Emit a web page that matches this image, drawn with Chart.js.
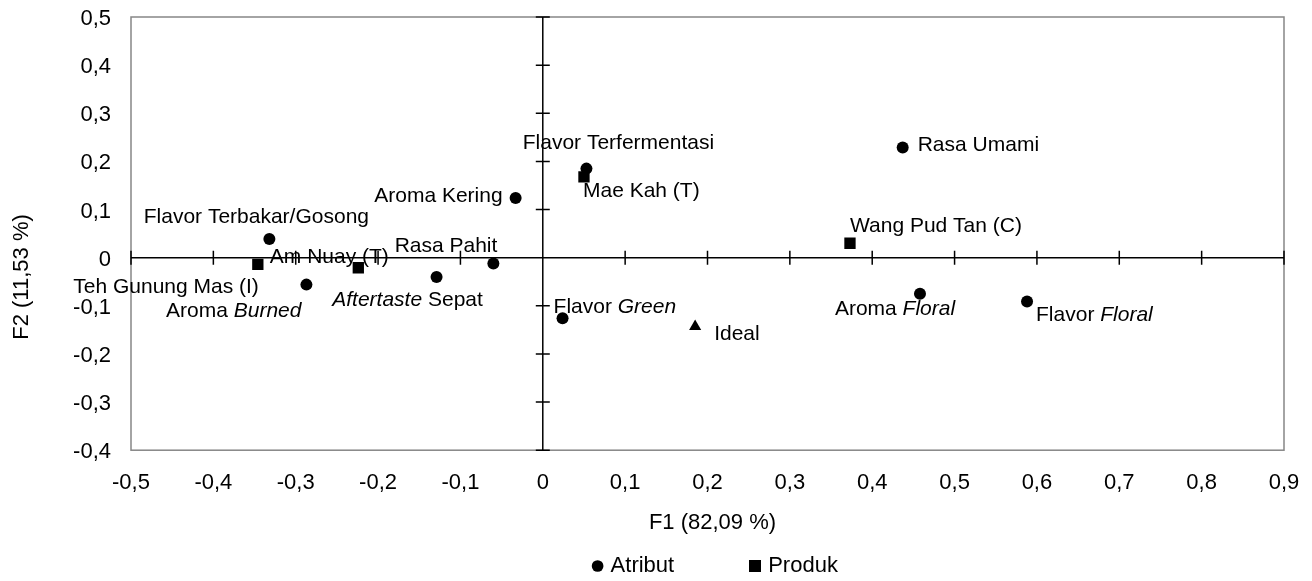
<!DOCTYPE html>
<html>
<head>
<meta charset="utf-8">
<script src="https://cdn.jsdelivr.net/npm/chart.js@4/dist/chart.umd.min.js"></script>
<style>
html,body{margin:0;padding:0;background:#fff;}
#wrap{width:1312px;height:581px;}
canvas{display:block;}
</style>
</head>
<body>
<div id="wrap"><canvas id="c" width="1312" height="581"></canvas></div>
<script>
// ---- data ----
const xTickLabels = ['-0,5','-0,4','-0,3','-0,2','-0,1','0','0,1','0,2','0,3','0,4','0,5','0,6','0,7','0,8','0,9'];
const yTickLabels = ['-0,4','-0,3','-0,2','-0,1','0','0,1','0,2','0,3','0,4','0,5'];
const xTitle = 'F1 (82,09 %)';
const yTitle = 'F2 (11,53 %)';

const atributNames = ['Flavor Terbakar/Gosong','Aroma *Burned*','*Aftertaste* Sepat','Rasa Pahit','Aroma Kering','Flavor Terfermentasi','Flavor *Green*','Rasa Umami','Aroma *Floral*','Flavor *Floral*'];
const atributF1 = [-0.332, -0.287, -0.129, -0.060, -0.033, 0.053, 0.024, 0.437, 0.458, 0.588];
const atributF2 = [ 0.039, -0.056, -0.040, -0.012,  0.124, 0.185, -0.126, 0.229, -0.075, -0.091];

const produkNames = ['Teh Gunung Mas (I)','Am Nuay (T)','Mae Kah (T)','Wang Pud Tan (C)'];
const produkF1 = [-0.346, -0.224, 0.050, 0.373];
const produkF2 = [-0.014, -0.021, 0.168, 0.030];

const idealNames = ['Ideal'];
const idealF1 = [0.185];
const idealF2 = [-0.143];

// ---- label placement (pixel offset from the mark, text anchor) ----
const atributPlace = [[-13,-22,'center'],[-5,27,'right'],[-29,23,'center'],[4,-17,'right'],[-13,-2,'right'],[32,-25,'center'],[-9,-11,'left'],[15,-2,'left'],[-25,15,'center'],[9,14,'left']];
const produkPlace = [[1,23,'right'],[-29,-11,'center'],[-1,14,'left'],[0,-17,'left']];
const idealPlace = [[19,8,'left']];

const FAMILY = "'Liberation Sans', Arial, Helvetica, sans-serif";
const xTickValues = xTickLabels.map(s => parseFloat(s.replace(',', '.')));
const yTickValues = yTickLabels.map(s => parseFloat(s.replace(',', '.')));

function pts(xs, ys){ return xs.map((v,i)=>({x:v, y:ys[i]})); }

function drawRich(ctx, text, x, y, align, size){
  const parts = text.split('*').map((s,i)=>({s, it: i%2===1})).filter(p=>p.s.length);
  const fonts = parts.map(p => (p.it ? 'italic ' : '') + size + 'px ' + FAMILY);
  const widths = parts.map((p,i)=>{ ctx.font = fonts[i]; return ctx.measureText(p.s).width; });
  const total = widths.reduce((a,b)=>a+b,0);
  let sx = align==='left' ? x : (align==='right' ? x-total : x-total/2);
  ctx.textAlign = 'left'; ctx.textBaseline = 'middle'; ctx.fillStyle = '#000';
  parts.forEach((p,i)=>{ ctx.font = fonts[i]; ctx.fillText(p.s, sx, y); sx += widths[i]; });
}

const decor = {
  id: 'decor',
  beforeDatasetsDraw(chart){
    const {ctx, chartArea:a, scales:{x, y}} = chart;
    ctx.save();
    ctx.strokeStyle = '#868686'; ctx.lineWidth = 1.5;
    ctx.strokeRect(a.left, a.top, a.right-a.left, a.bottom-a.top);
    const x0 = x.getPixelForValue(0), y0 = y.getPixelForValue(0);
    ctx.strokeStyle = '#000'; ctx.lineWidth = 1.5;
    ctx.beginPath();
    ctx.moveTo(a.left, y0); ctx.lineTo(a.right, y0);
    ctx.moveTo(x0, a.top); ctx.lineTo(x0, a.bottom);
    x.ticks.forEach(t=>{ const px = x.getPixelForValue(t.value); ctx.moveTo(px, y0-7); ctx.lineTo(px, y0+7); });
    y.ticks.forEach(t=>{ const py = y.getPixelForValue(t.value); ctx.moveTo(x0-7, py); ctx.lineTo(x0+7, py); });
    ctx.stroke();
    ctx.restore();
  },
  afterDatasetsDraw(chart){
    const ctx = chart.ctx;
    ctx.save();
    chart.data.datasets.forEach((ds, di)=>{
      const meta = chart.getDatasetMeta(di);
      meta.data.forEach((el, i)=>{
        const p = ds.place[i];
        drawRich(ctx, ds.names[i], el.x + p[0], el.y + p[1], p[2], 21);
      });
    });
    const a = chart.chartArea;
    ctx.fillStyle = '#000';
    ctx.font = '22px ' + FAMILY;
    ctx.textAlign = 'center'; ctx.textBaseline = 'middle';
    ctx.fillText(xTitle, (a.left+a.right)/2 + 5, 523);
    ctx.translate(22, 277);
    ctx.rotate(-Math.PI/2);
    ctx.fillText(yTitle, 0, 0);
    ctx.restore();
  }
};

// legend square marker
const sq = document.createElement('canvas');
sq.width = 12; sq.height = 12;
(function(){ const g = sq.getContext('2d'); g.fillStyle='#000'; g.fillRect(0,0,12,12); })();

new Chart(document.getElementById('c'), {
  type: 'scatter',
  data: {
    datasets: [
      {label:'Atribut', data: pts(atributF1, atributF2), names: atributNames, place: atributPlace,
       pointStyle:'circle', pointRadius:6, pointHoverRadius:6, backgroundColor:'#000', borderColor:'#000', borderWidth:0},
      {label:'Produk', data: pts(produkF1, produkF2), names: produkNames, place: produkPlace,
       pointStyle:'rect', pointRadius:8, pointHoverRadius:8, backgroundColor:'#000', borderColor:'#000', borderWidth:0},
      {label:'Ideal', data: pts(idealF1, idealF2), names: idealNames, place: idealPlace,
       pointStyle:'triangle', pointRadius:7, pointHoverRadius:7, backgroundColor:'#000', borderColor:'#000', borderWidth:0}
    ]
  },
  options: {
    responsive: false,
    animation: false,
    devicePixelRatio: 1,
    layout: { padding: { left: 60, right: -61.5, top: 17, bottom: -6 } },
    plugins: {
      tooltip: { enabled: false },
      legend: {
        position: 'bottom',
        align: 'center',
        labels: {
          usePointStyle: true,
          boxWidth: 4,
          boxHeight: 8.3,
          padding: 79,
          color: '#000',
          font: { family: FAMILY, size: 22 },
          generateLabels(chart){
            const items = Chart.defaults.plugins.legend.labels.generateLabels(chart);
            return items.filter(it => it.text !== 'Ideal').map(it => {
              if (it.text === 'Produk') it.pointStyle = sq;
              return it;
            });
          }
        }
      }
    },
    scales: {
      x: {
        type: 'linear',
        min: xTickValues[0], max: xTickValues[xTickValues.length-1],
        afterBuildTicks: s => { s.ticks = xTickValues.map(v => ({value: v})); },
        afterFit: s => { s.height = 25.8; s.paddingLeft = 0; s.paddingRight = 0; s._computeLabelArea = () => undefined; },
        grid: { display: false, drawTicks: false },
        border: { display: false },
        ticks: { color: '#000', padding: 20, maxRotation: 0, autoSkip: false,
                 font: { family: FAMILY, size: 22 },
                 callback: (v, i) => xTickLabels[i] }
      },
      y: {
        type: 'linear',
        min: yTickValues[0], max: yTickValues[yTickValues.length-1],
        afterBuildTicks: s => { s.ticks = yTickValues.map(v => ({value: v})); },
        afterFit: s => { s.width = 71; s.paddingTop = 0; s.paddingBottom = 0; },
        grid: { display: false, drawTicks: false },
        border: { display: false },
        ticks: { color: '#000', padding: 20, autoSkip: false, labelOffset: 2,
                 font: { family: FAMILY, size: 22 },
                 callback: (v, i) => yTickLabels[i] }
      },
      y2: {
        type: 'linear', position: 'right', display: true,
        afterFit: s => { s.width = 89.5; s.paddingTop = 0; s.paddingBottom = 0; },
        grid: { display: false, drawTicks: false },
        border: { display: false },
        ticks: { display: false }
      }
    }
  },
  plugins: [decor]
});
</script>
</body>
</html>
